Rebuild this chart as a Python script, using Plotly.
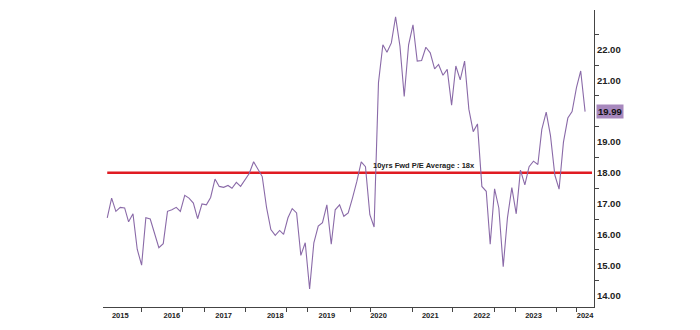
import pandas as pd
import plotly.graph_objects as go

# Monthly 10yr forward P/E readings, Oct 2014 .. Jan 2024
start_month = "2014-10-01"
pe_values = [
    16.54, 17.18, 16.75, 16.88, 16.86, 16.41, 16.67, 15.52, 15.00, 16.54,
    16.50, 16.05, 15.57, 15.70, 16.75, 16.80, 16.88, 16.75, 17.27, 17.18,
    17.02, 16.51, 16.99, 16.96, 17.20, 17.80, 17.56, 17.53, 17.59, 17.50,
    17.69, 17.56, 17.77, 17.98, 18.36, 18.12, 17.88, 16.86, 16.16, 15.97,
    16.13, 16.00, 16.54, 16.84, 16.70, 15.32, 15.73, 14.23, 15.73, 16.27,
    16.38, 16.96, 15.68, 16.80, 16.96, 16.59, 16.70, 17.18, 17.72, 18.36,
    18.20, 16.64, 16.24, 20.93, 22.16, 21.92, 22.22, 23.07, 22.11, 20.48,
    22.16, 22.81, 21.63, 21.65, 22.08, 21.90, 21.38, 21.52, 21.17, 21.36,
    20.20, 21.47, 21.02, 21.63, 20.07, 19.34, 19.59, 17.56, 17.40, 15.68,
    17.48, 16.86, 14.95, 16.54, 17.52, 16.67, 18.09, 17.61, 18.20, 18.38,
    18.27, 19.41, 19.97, 19.22, 17.93, 17.47, 19.00, 19.78, 19.99, 20.77,
    21.31, 19.99,
]
average_pe = 18
average_label = "10yrs Fwd P/E Average : 18x"
last_label = "19.99"

year_labels = ["2015", "2016", "2017", "2018", "2019", "2020", "2021", "2022", "2023", "2024"]
x_tick_marks = ["2015-06-01", "2016-03-15", "2016-08-20", "2017-06-05", "2018-03-25",
                "2018-08-15", "2019-06-15", "2019-11-05", "2020-08-25", "2021-06-10",
                "2022-04-01", "2022-08-25", "2023-06-10", "2023-11-01"]
y_tick_values = [14, 15, 16, 17, 18, 19, 20, 21, 22]

dates = pd.date_range(start_month, periods=len(pe_values), freq="MS")

LINE = "#8a6aa8"
BOX = "#a788bd"
AX = "#444444"
FONT = "Liberation Sans Narrow, Arial, sans-serif"

fig = go.Figure()

fig.add_trace(go.Scatter(
    x=[dates[0], pd.Timestamp("2024-02-19")], y=[average_pe, average_pe],
    mode="lines", line=dict(color="#e01b22", width=2.5), hoverinfo="skip",
    showlegend=False))

fig.add_trace(go.Scatter(
    x=dates, y=pe_values, mode="lines",
    line=dict(color=LINE, width=1.1), showlegend=False))

# invisible trace to activate the tick-mark axis
fig.add_trace(go.Scatter(x=[dates[0]], y=[average_pe], xaxis="x2", mode="markers",
                         marker=dict(opacity=0), showlegend=False, hoverinfo="skip"))

x_range = ["2014-09-01", "2024-03-04"]
y_range = [13.643, 23.29]

fig.update_layout(
    width=700, height=330,
    margin=dict(l=103, r=106, t=10, b=20),
    paper_bgcolor="white", plot_bgcolor="white",
    font=dict(family=FONT, color="#222222"),
    xaxis=dict(
        range=x_range, type="date",
        tickvals=[f"{y}-01-01" for y in year_labels], ticktext=year_labels,
        ticks="", showgrid=False, zeroline=False,
        showline=True, linecolor=AX, linewidth=1,
        tickfont=dict(size=7.5, family=FONT, color="#222222", weight="bold"),
        ticklabelstandoff=1,
    ),
    xaxis2=dict(
        range=x_range, type="date", overlaying="x", side="bottom",
        tickvals=x_tick_marks, ticktext=[""] * len(x_tick_marks),
        ticks="outside", ticklen=4, tickcolor=AX, tickwidth=1,
        showgrid=False, zeroline=False, showline=False,
    ),
    yaxis=dict(
        range=y_range, side="right",
        tickvals=y_tick_values, tickformat=".2f",
        ticks="", showgrid=False, zeroline=False,
        showline=True, linecolor=AX, linewidth=1,
        tickfont=dict(size=9.5, family=FONT, color="#222222", weight="bold"),
        minor=dict(dtick=1, tick0=0.5, ticks="outside", ticklen=4,
                   tickcolor=AX, tickwidth=1, showgrid=False),
    ),
)

fig.add_annotation(
    x=0.654, xref="paper", y=average_pe, yref="y",
    text=average_label, showarrow=False, yanchor="bottom", yshift=1,
    font=dict(size=7.5, family=FONT, color="#222222", weight="bold"),
)

fig.add_annotation(
    x=1, xref="paper", y=pe_values[-1], yref="y",
    text=last_label, showarrow=False, xanchor="left", xshift=2,
    bgcolor=BOX, borderpad=1,
    font=dict(size=9.5, family=FONT, color="#111111", weight="bold"),
)

fig.write_html("out.html")
